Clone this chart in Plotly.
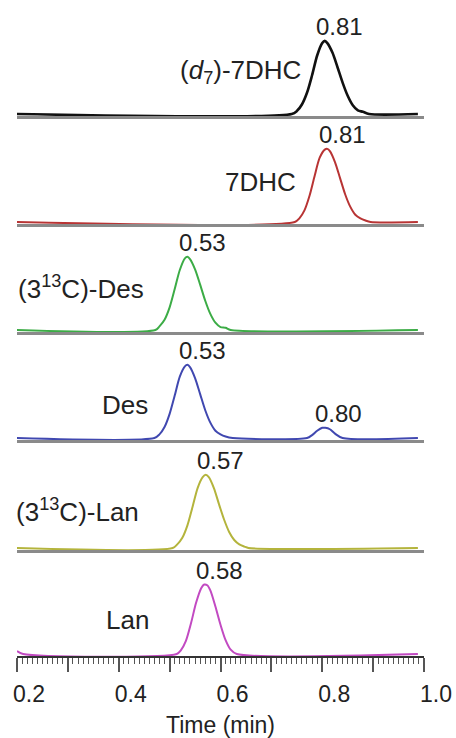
import numpy as np
import plotly.graph_objects as go

# ---------------- data ----------------
names = ["(<i>d</i><sub>7</sub>)-7DHC", "7DHC", "(3<sup>13</sup>C)-Des", "Des",
         "(3<sup>13</sup>C)-Lan", "Lan"]
colors = ["#111111", "#b83434", "#3cac46", "#4048b0", "#b4b43c", "#c24ac2"]

t_d7 = [0.200, 0.740, 0.750, 0.760, 0.770, 0.780, 0.790, 0.800, 0.805, 0.810, 0.820,
        0.830, 0.840, 0.850, 0.860, 0.870, 0.880, 0.892, 0.988]
i_d7 = [0, 0, 4, 13, 29, 53, 80, 97, 100, 97, 84, 64, 43, 25, 12, 5, 3, 0, 0]

t_7dhc = [0.200, 0.746, 0.755, 0.765, 0.775, 0.785, 0.795, 0.805, 0.810, 0.815, 0.825,
          0.835, 0.845, 0.855, 0.865, 0.875, 0.885, 0.895, 0.988]
i_7dhc = [0, 0, 5, 16, 36, 63, 88, 99, 100, 97, 82, 60, 38, 21, 10, 5, 2, 0, 0]

t_des13 = [0.200, 0.472, 0.480, 0.490, 0.500, 0.510, 0.520, 0.530, 0.535, 0.540, 0.550,
           0.560, 0.570, 0.580, 0.590, 0.600, 0.610, 0.620, 0.988]
i_des13 = [0, 0, 5, 14, 31, 56, 82, 98, 100, 97, 83, 62, 40, 22, 10, 4, 3, 0, 0]

t_des = [0.200, 0.470, 0.480, 0.490, 0.500, 0.510, 0.520, 0.530, 0.535, 0.540, 0.550,
         0.560, 0.570, 0.580, 0.590, 0.600, 0.610, 0.624, 0.770, 0.780, 0.790, 0.800,
         0.806, 0.815, 0.825, 0.840, 0.988]
i_des = [0, 0, 5, 15, 33, 58, 84, 98, 100, 97, 82, 60, 38, 21, 10, 5, 2, 0, 0, 4, 10,
         14, 14, 12, 6, 0, 0]

t_lan13 = [0.200, 0.506, 0.515, 0.525, 0.535, 0.545, 0.555, 0.565, 0.571, 0.577, 0.587,
           0.597, 0.607, 0.617, 0.627, 0.637, 0.647, 0.655, 0.988]
i_lan13 = [0, 0, 5, 14, 31, 56, 82, 97, 100, 97, 82, 60, 39, 22, 11, 5, 2, 0, 0]

t_lan = [0.200, 0.212, 0.514, 0.522, 0.532, 0.542, 0.552, 0.562, 0.568, 0.574, 0.580,
         0.590, 0.600, 0.610, 0.620, 0.632, 0.988]
i_lan = [4, 0, 0, 5, 18, 42, 70, 90, 95, 94, 87, 65, 40, 19, 6, 0, 0]

times = [t_d7, t_7dhc, t_des13, t_des, t_lan13, t_lan]
intens = [i_d7, i_7dhc, i_des13, i_des, i_lan13, i_lan]

# retention-time labels: (time at which label sits, text)
peak_labels = [
    [(0.805, "0.81")],
    [(0.810, "0.81")],
    [(0.535, "0.53")],
    [(0.535, "0.53"), (0.803, "0.80")],
    [(0.571, "0.57")],
    [(0.568, "0.58")],
]

tick_vals = [0.2, 0.3, 0.4, 0.5, 0.6, 0.7, 0.8, 0.9, 1.0]
tick_text = ["0.2", " ", "0.4", " ", "0.6", " ", "0.8", " ", "1.0"]

# ---------------- layout constants ----------------
W, H = 456, 738
ML, MR, MT, MB = 17, 32, 0, 82
PH = H - MT - MB
panel_bottom_px = [116, 224, 332, 440, 550, 656]
panel_h_px = 100
name_pos = [  # (x px, y px, anchor)
    (303, 72, "right"), (260, 182, "center"), (16, 287, "left"),
    (125, 405, "center"), (14, 510, "left"), (128, 620, "center")]

FONT = "Liberation Sans, Arial, sans-serif"
TXT = "#222222"
fig = go.Figure()

for k in range(6):
    ax = "" if k == 0 else str(k + 1)
    fig.add_trace(go.Scatter(
        x=times[k], y=intens[k], mode="lines",
        line=dict(color=colors[k], width=2.6 if k == 0 else 2, shape="spline", smoothing=0.8),
        xaxis="x" + ax, yaxis="y" + ax, showlegend=False, hoverinfo="skip"))
    b = panel_bottom_px[k]
    y0 = (H - MB - b) / PH
    y1 = (H - MB - b + panel_h_px) / PH
    xa = dict(range=[0.2, 1.0], showline=True, linecolor="#8a8a8a", linewidth=2.5,
              showgrid=False, zeroline=False, anchor="y" + ax, fixedrange=True,
              automargin=False)
    if k == 5:
        xa.update(linecolor="#333333", linewidth=2, ticks="outside", ticklen=14,
                  tickwidth=2, tickcolor="#555555", tickvals=tick_vals, ticktext=tick_text,
                  tickfont=dict(family=FONT, size=23, color=TXT),
                  ticklabelshift=12, ticklabelstandoff=2, ticklabeloverflow="allow",
                  minor=dict(dtick=0.01, tick0=0.2, ticks="outside", ticklen=6,
                             tickwidth=1, tickcolor="#555555", showgrid=False),
                  title=dict(text="Time (min)", font=dict(family=FONT, size=23, color=TXT),
                             standoff=13))
    else:
        xa.update(showticklabels=False, ticks="", matches="x6")
    ya = dict(domain=[y0, y1], range=[-2.7, 134], visible=False, fixedrange=True,
              anchor="x" + ax, automargin=False)
    fig.layout["xaxis" + ax] = xa
    fig.layout["yaxis" + ax] = ya

    for (tx, txt) in peak_labels[k]:
        fig.add_annotation(x=tx, y=float(np.interp(tx, times[k], intens[k])),
                           xref="x" + ax, yref="y" + ax, text=txt, showarrow=False,
                           xanchor="center", yanchor="middle", xshift=15, yshift=14,
                           font=dict(family=FONT, size=24, color=TXT))
    px, py, anc = name_pos[k]
    fig.add_annotation(x=(px - ML) / (W - ML - MR), y=(H - MB - py) / PH,
                       xref="paper", yref="paper", text=names[k], showarrow=False,
                       xanchor=anc, yanchor="middle",
                       font=dict(family=FONT, size=26, color=TXT))

fig.update_layout(width=W, height=H, margin=dict(l=ML, r=MR, t=MT, b=MB),
                  paper_bgcolor="white", plot_bgcolor="white")
fig.write_html("out.html", config={"displayModeBar": False},
               post_script="document.body.style.margin='0px';document.body.style.padding='0px';")
